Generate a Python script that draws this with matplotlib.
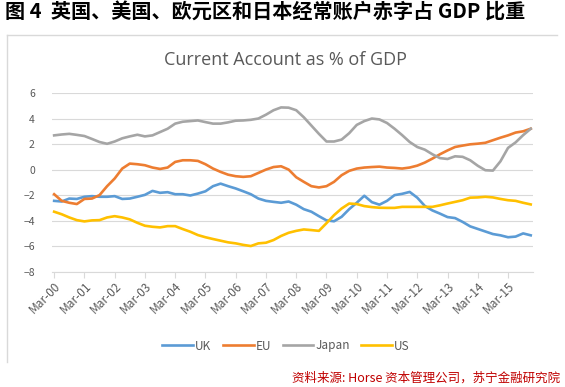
import matplotlib
matplotlib.use('Agg')
import matplotlib.pyplot as plt
from matplotlib.lines import Line2D

plt.rcParams['font.family'] = ['Noto Sans CJK SC', 'DejaVu Sans']

# quarterly, Mar-00 .. Dec-15
years = ['00', '01', '02', '03', '04', '05', '06', '07',
         '08', '09', '10', '11', '12', '13', '14', '15']
tick_labels = ['Mar-' + y for y in years]

uk = [-2.45, -2.5, -2.27, -2.3, -2.13, -2.08, -2.13, -2.13,
      -2.08, -2.3, -2.27, -2.13, -1.98, -1.67, -1.82, -1.77,
      -1.93, -1.93, -2.03, -1.88, -1.7, -1.3, -1.1, -1.3,
      -1.48, -1.7, -1.93, -2.27, -2.45, -2.53, -2.6, -2.5,
      -2.75, -3.1, -3.3, -3.65, -3.98, -4.05, -3.7, -3.1,
      -2.6, -2.05, -2.55, -2.75, -2.45, -2.0, -1.9, -1.75,
      -2.2, -2.85, -3.2, -3.45, -3.72, -3.8, -4.1, -4.45,
      -4.65, -4.85, -5.05, -5.15, -5.3, -5.25, -5.0, -5.15]

eu = [-1.93, -2.45, -2.6, -2.7, -2.3, -2.27, -2.0, -1.3,
      -0.7, 0.08, 0.47, 0.42, 0.34, 0.16, 0.05, 0.16,
      0.6, 0.73, 0.73, 0.68, 0.42, 0.08, -0.18, -0.4,
      -0.52, -0.57, -0.52, -0.26, 0.0, 0.2, 0.26, 0.0,
      -0.6, -0.96, -1.3, -1.4, -1.3, -0.96, -0.44, -0.1,
      0.08, 0.16, 0.2, 0.23, 0.16, 0.13, 0.08, 0.16,
      0.31, 0.55, 0.86, 1.2, 1.5, 1.77, 1.88, 1.98,
      2.03, 2.1, 2.3, 2.5, 2.68, 2.9, 3.0, 3.2]

japan = [2.68, 2.75, 2.8, 2.72, 2.63, 2.4, 2.16, 2.02,
         2.2, 2.45, 2.6, 2.73, 2.6, 2.68, 2.94, 3.2,
         3.6, 3.75, 3.8, 3.85, 3.72, 3.6, 3.6, 3.7,
         3.83, 3.85, 3.9, 4.0, 4.3, 4.65, 4.87, 4.85,
         4.65, 4.1, 3.45, 2.8, 2.2, 2.2, 2.35, 2.85,
         3.5, 3.8, 4.0, 3.93, 3.65, 3.2, 2.7, 2.16,
         1.77, 1.56, 1.2, 0.9, 0.83, 1.04, 1.0, 0.73,
         0.3, -0.05, -0.08, 0.65, 1.7, 2.13, 2.7, 3.2]

us = [-3.3, -3.5, -3.75, -3.96, -4.06, -3.98, -3.96, -3.75,
      -3.65, -3.75, -3.9, -4.17, -4.4, -4.48, -4.53, -4.43,
      -4.43, -4.66, -4.87, -5.13, -5.3, -5.44, -5.57, -5.7,
      -5.78, -5.9, -5.99, -5.78, -5.73, -5.52, -5.2, -4.95,
      -4.8, -4.69, -4.74, -4.8, -4.2, -3.57, -3.05, -2.66,
      -2.7, -2.86, -2.94, -2.99, -3.0, -3.0, -2.92, -2.92,
      -2.92, -2.92, -2.92, -2.8, -2.66, -2.53, -2.4, -2.2,
      -2.18, -2.13, -2.18, -2.3, -2.4, -2.45, -2.6, -2.73]

series = [('UK', uk, '#5B9BD5'), ('EU', eu, '#ED7D31'),
          ('Japan', japan, '#A5A5A5'), ('US', us, '#FFC000')]

W, H = 565, 387
fig = plt.figure(figsize=(W / 100, H / 100), dpi=100)
fig.patch.set_facecolor('white')

# chart area frame (top and left edges visible)
fig.add_artist(Line2D([7 / W, 557 / W], [1 - 35 / H, 1 - 35 / H],
                      color='#d9d9d9', lw=1, transform=fig.transFigure))
fig.add_artist(Line2D([7 / W, 7 / W], [1 - 35 / H, 1 - 362 / H],
                      color='#d9d9d9', lw=1, transform=fig.transFigure))

ax = fig.add_axes([51.5 / W, 1 - 271.7 / H, (533 - 51.5) / W, (271.7 - 93) / H])
x = list(range(len(uk)))
for name, vals, col in series:
    ax.plot(x, vals, color=col, lw=1.9, label=name, solid_joinstyle='round')

ax.set_xlim(-0.35, 63.3)
ax.set_ylim(-8, 6)
ax.set_yticks(range(-8, 7, 2))
ax.set_xticks(range(0, 64, 4))
ax.set_xticklabels(tick_labels, rotation=45, ha='right', rotation_mode='anchor')
ax.grid(axis='y', color='#d9d9d9', lw=0.8)
ax.set_axisbelow(True)
for s in ['top', 'right', 'left']:
    ax.spines[s].set_visible(False)
ax.spines['bottom'].set_color('#d9d9d9')
ax.tick_params(axis='y', length=0, labelsize=7.5, labelcolor='#595959', pad=12)
ax.tick_params(axis='x', length=4, color='#d9d9d9', labelsize=8.5,
               labelcolor='#595959', pad=2)

fig.text(285 / W, 1 - 60 / H, 'Current Account as % of GDP', ha='center',
         va='center', fontsize=13, color='#595959', family='Open Sans')

ax.legend(loc='center', bbox_to_anchor=(286 / W, 1 - 346 / H),
          bbox_transform=fig.transFigure, ncol=4, frameon=False,
          fontsize=8.5, labelcolor='#595959', handlelength=2.6,
          handletextpad=0.15, columnspacing=1.0)

fig.text(5 / W, 1 - 12 / H, '图 4  英国、美国、欧元区和日本经常账户赤字占 GDP 比重',
         ha='left', va='center', fontsize=14.5, fontweight='bold', color='black')
fig.text(560 / W, 1 - 378 / H, '资料来源: Horse 资本管理公司，苏宁金融研究院',
         ha='right', va='center', fontsize=9, color='#C00000', style='italic')

fig.savefig('out.png', dpi=100, facecolor='white')
